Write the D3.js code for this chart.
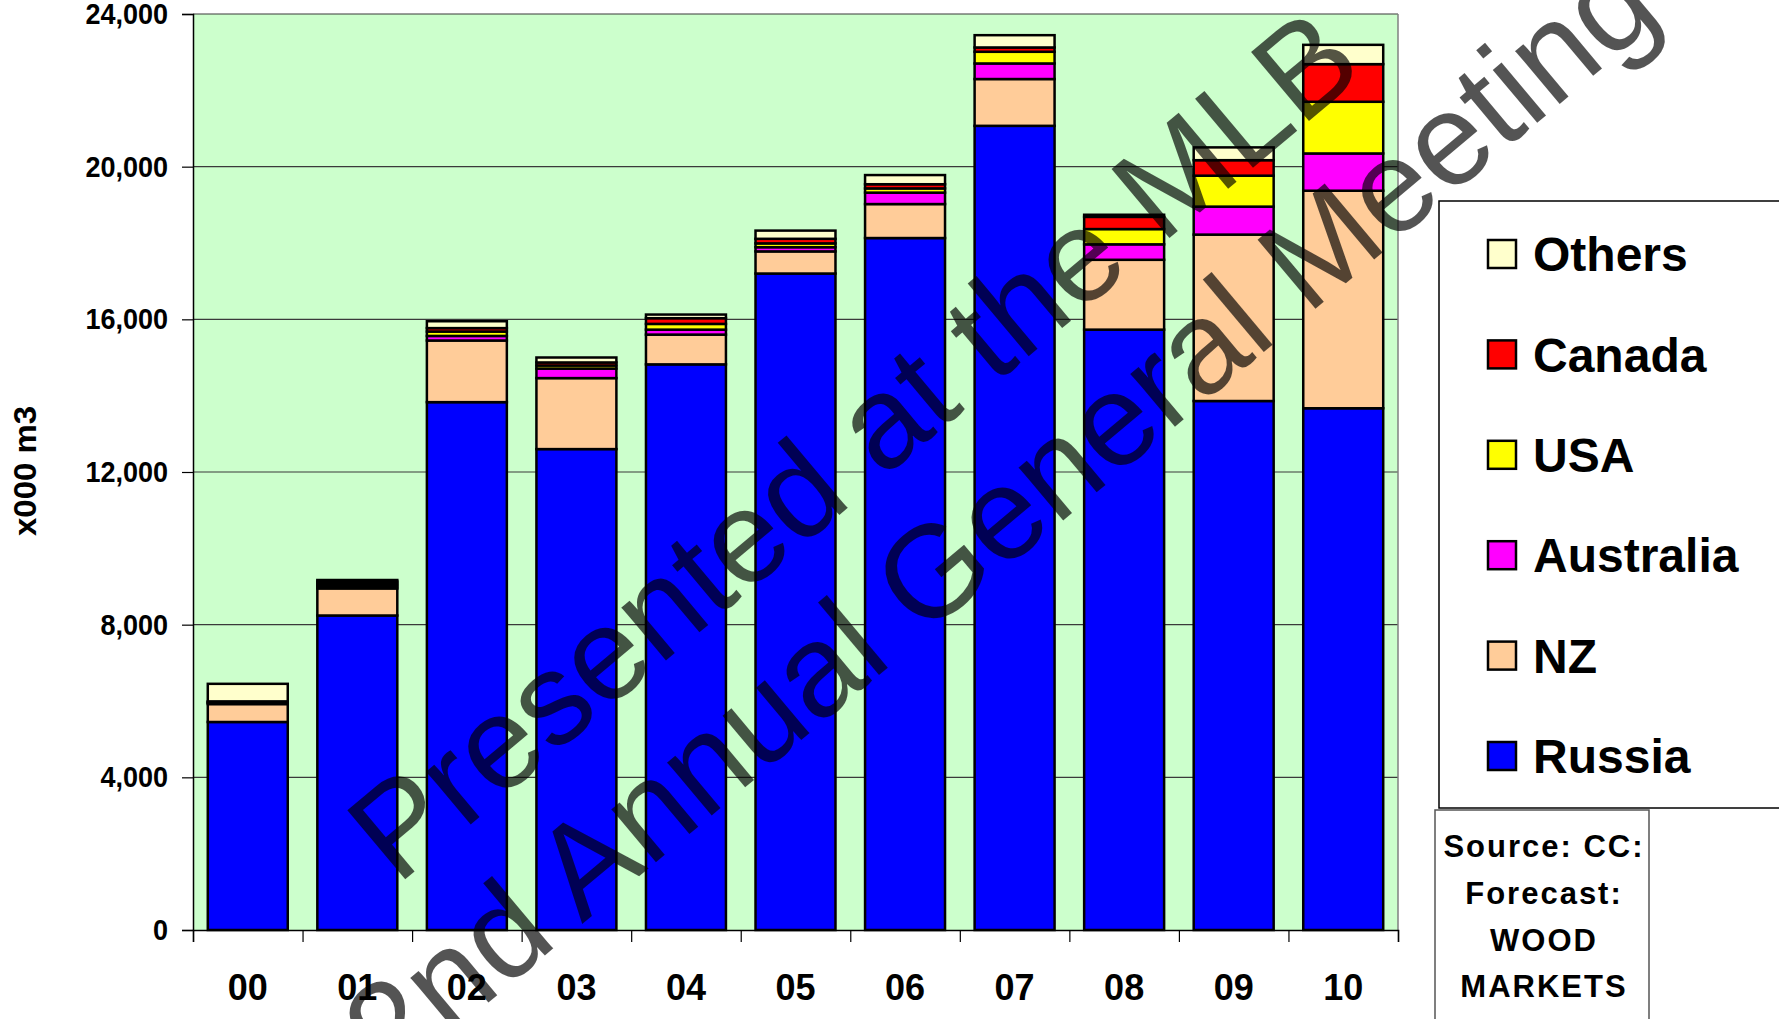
<!DOCTYPE html>
<html>
<head>
<meta charset="utf-8">
<script src="https://cdn.jsdelivr.net/npm/d3@7"></script>
<style>
    body { margin: 0; background: #fff; }
    svg { display: block; font-family: "Liberation Sans", Arial, sans-serif; }
</style>
</head>
<body>
<div id="grafico"></div>
<script>
// 1. Datos (x000 m3)
const years = ["00", "01", "02", "03", "04", "05", "06", "07", "08", "09", "10"];
const russia = [5450, 8240, 13830, 12600, 14820, 17200, 18130, 21070, 15730, 13860, 13670];
const nz = [470, 710, 1615, 1860, 780, 580, 890, 1226, 1830, 4360, 5700];
const australia = [30, 60, 120, 250, 130, 110, 300, 408, 405, 733, 976];
const usa = [20, 60, 115, 80, 150, 100, 110, 306, 400, 811, 1354];
const canada = [20, 60, 90, 80, 150, 120, 110, 113, 320, 406, 986];
const others = [460, 40, 180, 130, 95, 215, 240, 322, 55, 335, 506];
const yTicks = [0, 4000, 8000, 12000, 16000, 20000, 24000];

const seriesNames = ["Russia", "NZ", "Australia", "USA", "Canada", "Others"];
const seriesValues = [russia, nz, australia, usa, canada, others];
const colors = ["#0000ff", "#ffcc99", "#ff00ff", "#ffff00", "#ff0000", "#ffffcc"];

// tabla para d3.stack
const table = years.map((yr, i) => {
    const row = { year: yr };
    seriesNames.forEach((s, k) => (row[s] = seriesValues[k][i]));
    return row;
});

// 2. Lienzo
const W = 1779, H = 1019;
const plot = { left: 193, right: 1398, top: 14, bottom: 930 };

const svg = d3.select("#grafico")
    .append("svg")
    .attr("width", W)
    .attr("height", H);

// 3. Escalas
const x = d3.scaleBand()
    .domain(years)
    .range([plot.left, plot.right])
    .paddingInner(0.27)
    .paddingOuter(0.135);

const xEdges = d3.scaleLinear()
    .domain([0, years.length])
    .range([plot.left, plot.right]);

const y = d3.scaleLinear()
    .domain([0, 24000])
    .range([plot.bottom, plot.top]);

const color = d3.scaleOrdinal().domain(seriesNames).range(colors);

// 4. Fondo del área de trazado
svg.append("rect")
    .attr("x", plot.left)
    .attr("y", plot.top)
    .attr("width", plot.right - plot.left)
    .attr("height", plot.bottom - plot.top)
    .attr("fill", "#ccffcc");

// líneas de cuadrícula
svg.append("g")
    .selectAll("line")
    .data(yTicks.slice(1))
    .join("line")
    .attr("x1", plot.left)
    .attr("x2", plot.right)
    .attr("y1", (d) => y(d))
    .attr("y2", (d) => y(d))
    .attr("stroke", "#3a3a3a")
    .attr("stroke-width", 1.2);

svg.append("line")
    .attr("x1", plot.right)
    .attr("x2", plot.right)
    .attr("y1", plot.top)
    .attr("y2", plot.bottom)
    .attr("stroke", "#808080")
    .attr("stroke-width", 1.5);

// 5. Barras apiladas
const stacked = d3.stack().keys(seriesNames)(table);

svg.append("g")
    .selectAll("g")
    .data(stacked)
    .join("g")
    .attr("fill", (d) => color(d.key))
    .selectAll("rect")
    .data((d) => d)
    .join("rect")
    .attr("x", (d) => x(d.data.year))
    .attr("y", (d) => y(d[1]))
    .attr("width", x.bandwidth())
    .attr("height", (d) => y(d[0]) - y(d[1]))
    .attr("stroke", "#000")
    .attr("stroke-width", 2.5);

// 6. Ejes
const yAxis = svg.append("g")
    .attr("transform", `translate(${plot.left},0)`)
    .call(d3.axisLeft(y).tickValues(yTicks).tickSize(11).tickPadding(14).tickFormat(d3.format(",")));
yAxis.select(".domain").attr("stroke-width", 1.5);
yAxis.selectAll(".tick line").attr("stroke-width", 1.2);
yAxis.selectAll("text")
    .attr("font-size", 30)
    .attr("font-weight", "bold")
    .attr("font-family", "Liberation Sans, Arial, sans-serif")
    .attr("fill", "#000")
    .each(function () {
        // etiquetas algo más estrechas, como en el original
        const largo = this.getComputedTextLength();
        d3.select(this)
            .attr("textLength", largo * 0.9)
            .attr("lengthAdjust", "spacingAndGlyphs");
    });

const xTicks = svg.append("g")
    .attr("transform", `translate(0,${plot.bottom})`)
    .call(d3.axisBottom(xEdges).tickValues(d3.range(years.length + 1)).tickSize(12).tickFormat(""));
xTicks.select(".domain").attr("stroke-width", 1.5);
xTicks.selectAll(".tick line").attr("stroke-width", 1.2);

const xLabels = svg.append("g")
    .attr("transform", `translate(0,${plot.bottom})`)
    .call(d3.axisBottom(x).tickSize(0).tickPadding(44));
xLabels.select(".domain").remove();
xLabels.selectAll("text")
    .attr("font-size", 36)
    .attr("font-weight", "bold")
    .attr("font-family", "Liberation Sans, Arial, sans-serif")
    .attr("fill", "#000");

// título eje Y
svg.append("text")
    .attr("transform", "translate(36,471) rotate(-90)")
    .attr("text-anchor", "middle")
    .attr("font-size", 32)
    .attr("font-weight", "bold")
    .attr("textLength", 130)
    .attr("lengthAdjust", "spacingAndGlyphs")
    .text("x000 m3");

// 7. Leyenda
svg.append("rect")
    .attr("x", 1439)
    .attr("y", 201)
    .attr("width", 400)
    .attr("height", 607)
    .attr("fill", "#fff")
    .attr("stroke", "#000")
    .attr("stroke-width", 1.5);

const legend = svg.append("g")
    .selectAll("g")
    .data(seriesNames.slice().reverse())
    .join("g")
    .attr("transform", (d, i) => `translate(1488,${254 + i * 100.4})`);

legend.append("rect")
    .attr("x", 0)
    .attr("y", -14)
    .attr("width", 28)
    .attr("height", 28)
    .attr("fill", color)
    .attr("stroke", "#000")
    .attr("stroke-width", 2.5);

legend.append("text")
    .attr("x", 45)
    .attr("y", 0)
    .attr("dy", "0.36em")
    .attr("font-size", 48)
    .attr("font-weight", "bold")
    .text((d) => d);

// 8. Cuadro de fuente
svg.append("rect")
    .attr("x", 1435)
    .attr("y", 810)
    .attr("width", 214)
    .attr("height", 240)
    .attr("fill", "#fff")
    .attr("stroke", "#555")
    .attr("stroke-width", 1.5);

svg.append("g")
    .selectAll("text")
    .data(["Source: CC:", "Forecast:", "WOOD", "MARKETS"])
    .join("text")
    .attr("x", 1544)
    .attr("y", (d, i) => 846 + i * 46.7)
    .attr("dy", "0.36em")
    .attr("text-anchor", "middle")
    .attr("font-size", 31)
    .attr("font-weight", "bold")
    .attr("letter-spacing", 2)
    .text((d) => d);

// 9. Marca de agua
const marca = svg.append("g")
    .attr("transform", "translate(911,490) rotate(-40)")
    .attr("font-size", 131)
    .attr("fill", "#000")
    .attr("fill-opacity", 0.67)
    .attr("text-anchor", "middle");

marca.append("text")
    .attr("x", -15)
    .attr("y", -74)
    .attr("dy", "0.36em")
    .text("Presented at the MLB");

marca.append("text")
    .attr("x", 15)
    .attr("y", 74)
    .attr("dy", "0.36em")
    .text("22nd Annual General Meeting");
</script>
</body>
</html>
